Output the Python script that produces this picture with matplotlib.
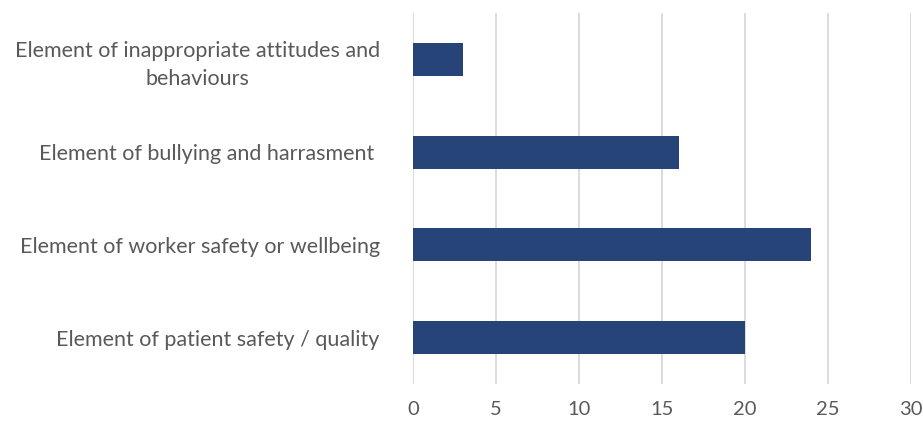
import matplotlib
matplotlib.use("Agg")
import matplotlib.pyplot as plt

plt.rcParams['font.family'] = ['Lato', 'DejaVu Sans']

categories = [
    "Element of patient safety / quality",
    "Element of worker safety or wellbeing",
    "Element of bullying and harrasment ",
    "Element of inappropriate attitudes and\nbehaviours",
]
values = [20, 24, 16, 3]
xticks = [0, 5, 10, 15, 20, 25, 30]

text_col = "#595959"
bar_col = "#264478"
grid_col = "#d9d9d9"

fig = plt.figure(figsize=(9.23, 4.23), dpi=100)
ax = fig.add_axes([0.4475, 0.092, 0.5395, 0.877])

ypos = list(range(len(categories)))
ax.barh(ypos, values, height=0.356, color=bar_col, zorder=3)
ax.set_ylim(-0.5, len(categories) - 0.5)
ax.set_xlim(0, 30)
ax.set_xticks(xticks)
ax.set_yticks(ypos)
ax.set_yticklabels(categories, ha="right", multialignment="center",
                   linespacing=1.5)

for s in ax.spines.values():
    s.set_visible(False)
ax.grid(axis="x", color=grid_col, lw=1.3, zorder=0)
ax.tick_params(axis="y", length=0, labelsize=15.5, colors=text_col, pad=24)
ax.tick_params(axis="x", length=0, labelsize=14.5, colors=text_col, pad=12)

fig.savefig("out.png", dpi=100)
